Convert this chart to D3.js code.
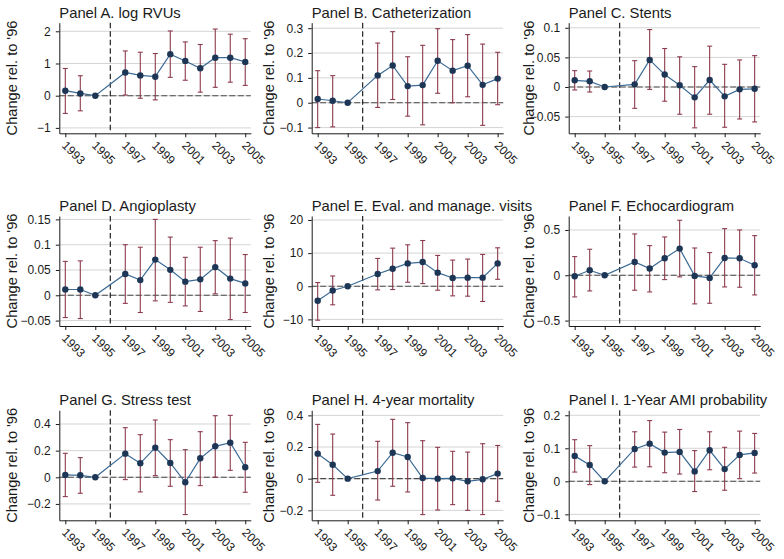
<!DOCTYPE html>
<html><head><meta charset="utf-8">
<script src="https://cdn.jsdelivr.net/npm/d3@7"></script>
<style>
html,body{margin:0;padding:0;background:#fff;}
text{font-family:"Liberation Sans",Arial,Helvetica,sans-serif;fill:#1a1a1a;}
</style></head>
<body><svg id="c" width="784" height="559"></svg>
<script>
// ---------- data ----------
const years = [1993,1994,1995,1997,1998,1999,2000,2001,2002,2003,2004,2005];
const xTickYears = [1993,1995,1997,1999,2001,2003,2005];
const refYear = 1996;

const titles = ["Panel A. log RVUs","Panel B. Catheterization","Panel C. Stents",
  "Panel D. Angioplasty","Panel E. Eval. and manage. visits","Panel F. Echocardiogram",
  "Panel G. Stress test","Panel H. 4-year mortality","Panel I. 1-Year AMI probability"];
const yTitle = "Change rel. to '96";

// Panel A: log RVUs
const rvuEst = [0.155,0.07,0,0.72,0.63,0.59,1.29,1.08,0.85,1.18,1.18,1.05];
const rvuLo  = [-0.55,-0.47,null,0.02,-0.08,-0.13,0.57,0.48,0.11,0.26,0.42,0.32];
const rvuHi  = [0.845,0.62,null,1.39,1.35,1.31,2.01,1.67,1.59,2.07,1.91,1.77];
// Panel B: Catheterization
const cathEst = [0.015,0.008,0,0.11,0.15,0.067,0.071,0.169,0.129,0.149,0.072,0.097];
const cathLo  = [-0.10,-0.097,null,-0.019,0.013,-0.054,-0.089,0.038,0.0,0.024,-0.091,-0.008];
const cathHi  = [0.129,0.109,null,0.24,0.286,0.185,0.231,0.298,0.254,0.274,0.236,0.203];
// Panel C: Stents
const stentEst = [0.0113,0.0096,0,0.0045,0.0457,0.021,0.003,-0.0175,0.0118,-0.0158,-0.004,-0.003];
const stentLo  = [-0.005,-0.0085,null,-0.036,-0.004,-0.024,-0.046,-0.069,-0.046,-0.068,-0.054,-0.059];
const stentHi  = [0.0276,0.027,null,0.0445,0.097,0.065,0.051,0.0344,0.069,0.0383,0.0457,0.053];
// Panel D: Angioplasty
const angioEst = [0.0114,0.0114,0,0.042,0.030,0.0705,0.0503,0.027,0.0315,0.0557,0.033,0.0235];
const angioLo  = [-0.044,-0.046,null,-0.016,-0.034,-0.011,-0.014,-0.021,-0.032,0.003,-0.048,-0.034];
const angioHi  = [0.067,0.068,null,0.10,0.095,0.15,0.115,0.075,0.095,0.108,0.113,0.0805];
// Panel E: Eval. and manage. visits
const emEst = [-4.4,-1.3,0,3.7,5.3,6.9,7.3,4.1,2.5,2.6,2.6,6.9];
const emLo  = [-10.25,-5.6,null,-1.1,-1.0,1.2,0.8,-1.2,-2.9,-3.0,-4.6,2.1];
const emHi  = [1.1,3.1,null,8.4,11.5,12.5,13.8,9.3,7.9,8.2,9.6,11.6];
// Panel F: Echocardiogram
const echoEst = [-0.011,0.055,0,0.147,0.074,0.1875,0.294,-0.007,-0.029,0.191,0.1875,0.11];
const echoLo  = [-0.239,-0.173,null,-0.165,-0.184,-0.048,-0.018,-0.316,-0.309,-0.129,-0.132,-0.217];
const echoHi  = [0.206,0.287,null,0.456,0.327,0.423,0.607,0.301,0.25,0.515,0.50,0.4375];
// Panel G: Stress test
const stressEst = [0.0175,0.015,0,0.1775,0.105,0.2225,0.1075,-0.0375,0.1425,0.2325,0.26,0.075];
const stressLo  = [-0.145,-0.12,null,-0.0175,-0.11,0.0125,-0.0675,-0.28,-0.0625,0.0,0.0525,-0.1125];
const stressHi  = [0.18,0.1475,null,0.3725,0.32,0.43,0.2825,0.2075,0.3425,0.4625,0.465,0.2625];
// Panel H: 4-year mortality
const mortEst = [0.158,0.088,0,0.048,0.164,0.137,0.004,0.0,0.002,-0.017,-0.004,0.032];
const mortLo  = [-0.023,-0.105,null,-0.135,-0.048,-0.084,-0.227,-0.198,-0.164,-0.20,-0.227,-0.143];
const mortHi  = [0.343,0.282,null,0.236,0.375,0.354,0.24,0.198,0.173,0.168,0.221,0.21];
// Panel I: 1-Year AMI probability
const amiEst = [0.077,0.0495,0,0.098,0.114,0.087,0.089,0.030,0.094,0.037,0.080,0.086];
const amiLo  = [0.028,-0.010,null,0.043,0.044,0.026,0.022,-0.031,0.035,-0.027,0.008,0.025];
const amiHi  = [0.126,0.108,null,0.150,0.184,0.149,0.157,0.093,0.150,0.103,0.152,0.145];

// y-axis ticks and ranges per panel
const yTicks = [[-1,0,1,2],[-0.1,0,0.1,0.2,0.3],[-0.05,0,0.05,0.1],
  [-0.05,0,0.05,0.1,0.15],[-10,0,10,20],[-0.5,0,0.5],
  [-0.2,0,0.2,0.4],[-0.2,0,0.2,0.4],[-0.1,0,0.1,0.2]];
const yTickLabels = [["\u22121","0","1","2"],["\u22120.1","0","0.1","0.2","0.3"],["\u22120.05","0","0.05","0.1"],
  ["\u22120.05","0","0.05","0.1","0.15"],["\u221210","0","10","20"],["\u22120.5","0","0.5"],
  ["\u22120.2","0","0.2","0.4"],["\u22120.2","0","0.2","0.4"],["\u22120.1","0","0.1","0.2"]];
const yRanges = [[-1.168,2.267],[-0.123,0.322],[-0.0782,0.1086],
  [-0.0607,0.1567],[-12.0,21.2],[-0.56,0.654],
  [-0.323,0.503],[-0.263,0.432],[-0.118,0.215]];

const panels = [
  [rvuEst,rvuLo,rvuHi],[cathEst,cathLo,cathHi],[stentEst,stentLo,stentHi],
  [angioEst,angioLo,angioHi],[emEst,emLo,emHi],[echoEst,echoLo,echoHi],
  [stressEst,stressLo,stressHi],[mortEst,mortLo,mortHi],[amiEst,amiLo,amiHi]
];

// ---------- layout ----------
const colX = [0,261,522];
const axisOff = [59.3,50.7,46.7];
const yTitleOff = [17,12.5,11.5];
const rowTop = [22.7,216,410.3];
const rowBot = [133.3,326,520.3];
const plotW = 191.5;

const svg = d3.select("#c");
svg.append("rect").attr("width",784).attr("height",559).attr("fill","#fff");

panels.forEach((p,i)=>{
  const col = i%3, row = Math.floor(i/3);
  const ax = colX[col]+axisOff[col];
  const top = rowTop[row], bot = rowBot[row];
  const x = d3.scaleLinear().domain([1992.6,2005.37]).range([ax, ax+plotW]);
  const y = d3.scaleLinear().domain(yRanges[i]).range([bot, top]);
  const g = svg.append("g");
  const pts = years.map((yr,k)=>({yr, est:p[0][k], lo:p[1][k], hi:p[2][k]}));

  // gridlines
  g.append("g").selectAll("line").data(yTicks[i]).join("line")
    .attr("x1",ax).attr("x2",ax+plotW)
    .attr("y1",d=>y(d)).attr("y2",d=>y(d))
    .attr("stroke","#d4d4d4").attr("stroke-width",1);
  // zero dashed line
  g.append("line").attr("x1",ax).attr("x2",ax+plotW)
    .attr("y1",y(0)).attr("y2",y(0))
    .attr("stroke","#4a4a4a").attr("stroke-width",1.1).attr("stroke-dasharray","6,2.5");
  // vertical reference line
  g.append("line").attr("x1",x(refYear)).attr("x2",x(refYear))
    .attr("y1",top).attr("y2",bot)
    .attr("stroke","#111").attr("stroke-width",1.1).attr("stroke-dasharray","5.5,3");

  // error bars
  const ci = pts.filter(d=>d.lo!==null);
  const eb = g.append("g").attr("stroke","#8c3b4d").attr("stroke-width",1.1).attr("fill","none");
  eb.selectAll("line.v").data(ci).join("line").attr("class","v")
    .attr("x1",d=>x(d.yr)).attr("x2",d=>x(d.yr)).attr("y1",d=>y(d.lo)).attr("y2",d=>y(d.hi));
  eb.selectAll("line.t").data(ci).join("line").attr("class","t")
    .attr("x1",d=>x(d.yr)-2.5).attr("x2",d=>x(d.yr)+2.5).attr("y1",d=>y(d.hi)).attr("y2",d=>y(d.hi));
  eb.selectAll("line.b").data(ci).join("line").attr("class","b")
    .attr("x1",d=>x(d.yr)-2.5).attr("x2",d=>x(d.yr)+2.5).attr("y1",d=>y(d.lo)).attr("y2",d=>y(d.lo));

  // connected line
  g.append("path").datum(pts)
    .attr("d",d3.line().x(d=>x(d.yr)).y(d=>y(d.est)))
    .attr("fill","none").attr("stroke","#3b6a95").attr("stroke-width",1.2);
  g.selectAll("circle").data(pts).join("circle")
    .attr("cx",d=>x(d.yr)).attr("cy",d=>y(d.est)).attr("r",3.2)
    .attr("fill","#1d3656");

  // y axis
  const ya = g.append("g").attr("transform",`translate(${ax},0)`)
    .call(d3.axisLeft(y).tickValues(yTicks[i]).tickFormat((d,k)=>yTickLabels[i][k])
      .tickSizeInner(3.5).tickSizeOuter(0).tickPadding(5));
  ya.select(".domain").attr("stroke","#1a1a1a");
  ya.selectAll(".tick line").attr("stroke","#1a1a1a");
  ya.selectAll("text").attr("font-size",12).style("fill","#1a1a1a")
    .attr("font-family","Liberation Sans, Arial, sans-serif");

  // x axis
  const xa = g.append("g").attr("transform",`translate(0,${bot})`)
    .call(d3.axisBottom(x).tickValues(xTickYears).tickFormat(d3.format("d"))
      .tickSizeInner(4).tickSizeOuter(0));
  xa.select(".domain").attr("stroke","#1a1a1a");
  xa.selectAll(".tick line").attr("stroke","#1a1a1a");
  xa.selectAll("text").attr("font-size",12).style("fill","#1a1a1a")
    .attr("font-family","Liberation Sans, Arial, sans-serif")
    .attr("x",-4.5).attr("y",13).attr("dy",0)
    .attr("text-anchor","start").attr("transform","rotate(45,-4.5,13)");

  // title
  g.append("text").attr("x",ax).attr("y",top-5)
    .attr("font-size",14.8).text(titles[i]);
  // y title
  const yc = (top+bot)/2;
  g.append("text").attr("transform",`translate(${colX[col]+yTitleOff[col]},${yc}) rotate(-90)`)
    .attr("text-anchor","middle").attr("font-size",14.6).text(yTitle);
});
</script></body></html>
